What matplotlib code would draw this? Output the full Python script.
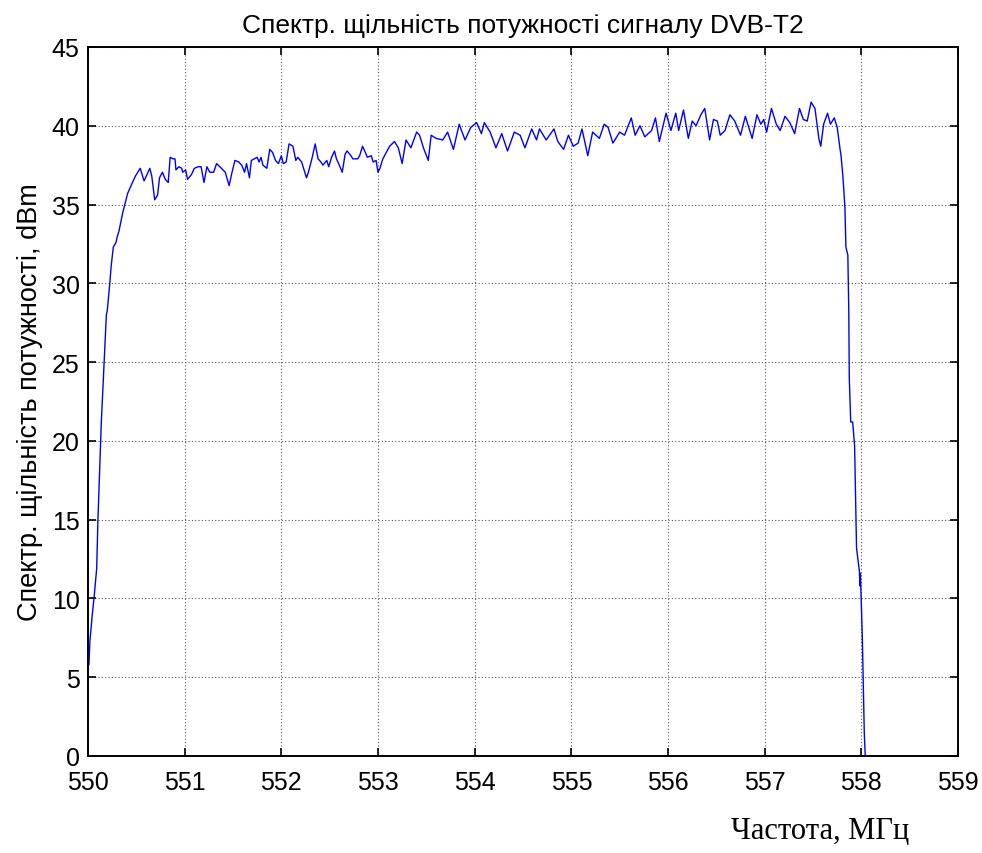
import matplotlib
matplotlib.use("Agg")
import matplotlib.pyplot as plt

# spectrum trace, frequency in MHz and PSD in dBm
freq_mhz = [
    550.01, 550.02, 550.035, 550.045, 550.062, 550.09, 550.103, 550.12, 550.138, 550.158,
    550.176, 550.19, 550.20, 550.227, 550.24, 550.262, 550.29, 550.30, 550.32, 550.36,
    550.41, 550.46, 550.49, 550.54,
    550.58, 550.64, 550.66, 550.69, 550.72, 550.74, 550.77, 550.80, 550.83, 550.85,
    550.88, 550.90, 550.91, 550.94, 550.97, 550.98, 551.01, 551.03, 551.07, 551.10,
    551.14, 551.17, 551.20, 551.23, 551.26, 551.30, 551.33, 551.38, 551.42, 551.46,
    551.49, 551.52, 551.56, 551.59, 551.62, 551.64, 551.67, 551.69, 551.72, 551.75,
    551.77, 551.79, 551.81, 551.85, 551.88, 551.91, 551.94, 551.97, 552.00, 552.02,
    552.05, 552.08, 552.12, 552.15, 552.17, 552.21, 552.23, 552.26, 552.28, 552.32,
    552.35, 552.38, 552.41, 552.43, 552.47, 552.49, 552.52, 552.55, 552.57, 552.60,
    552.63, 552.66, 552.68, 552.72, 552.74, 552.79, 552.81, 552.84, 552.87, 552.89,
    552.93, 552.95, 552.98, 553.00, 553.02,
    553.05, 553.12, 553.17,
    553.21, 553.25, 553.29, 553.34, 553.40, 553.43, 553.47, 553.52, 553.55, 553.60,
    553.67, 553.72, 553.78, 553.84, 553.90, 553.96, 554.02, 554.07, 554.10, 554.16,
    554.22, 554.28, 554.34, 554.41, 554.47, 554.52, 554.59, 554.64, 554.67, 554.74,
    554.82, 554.86, 554.92, 554.97, 555.02, 555.07, 555.11, 555.17, 555.22, 555.29,
    555.34, 555.38, 555.43, 555.50, 555.55, 555.62, 555.66, 555.71, 555.76, 555.83,
    555.87, 555.91, 555.98, 556.03, 556.08, 556.11, 556.16, 556.21, 556.25, 556.29,
    556.34, 556.38, 556.43, 556.47, 556.51, 556.54, 556.59, 556.64, 556.69, 556.75,
    556.80, 556.87, 556.92, 556.96, 556.99, 557.02, 557.07, 557.12, 557.16, 557.21,
    557.26, 557.31, 557.36, 557.40, 557.44, 557.48, 557.52, 557.56, 557.58, 557.61,
    557.65, 557.68, 557.72, 557.75, 557.78, 557.79, 557.81, 557.83, 557.84, 557.86,
    557.87, 557.875, 557.89, 557.91, 557.93, 557.95, 557.98, 557.985, 557.99, 558.01,
    558.03, 558.04,
]
psd_dbm = [
    5.8, 7.3, 8.3, 9.0, 10.0, 11.9, 15.0, 18.1, 21.2, 23.8,
    26.1, 28.0, 28.3, 30.1, 31.1, 32.3, 32.6, 32.9, 33.3, 34.5,
    35.7, 36.4, 36.8, 37.3,
    36.5, 37.3, 36.8, 35.3, 35.6, 36.7, 37.05, 36.6, 36.4, 38.0,
    37.9, 37.9, 37.2, 37.4, 37.3, 37.05, 37.2, 36.6, 36.9, 37.3,
    37.4, 37.4, 36.4, 37.4, 37.05, 37.05, 37.6, 37.3, 37.05, 36.2,
    37.05, 37.8, 37.7, 37.5, 37.05, 37.6, 36.7, 37.8, 37.9, 38.0,
    37.7, 38.0, 37.5, 37.3, 38.5, 38.3, 37.8, 37.6, 38.1, 37.6,
    37.7, 38.85, 38.7, 37.8, 38.0, 37.7, 37.3, 36.7, 37.05, 38.0,
    38.85, 37.9, 37.7, 37.5, 37.8, 37.4, 38.0, 38.4, 37.9, 37.5,
    37.05, 38.2, 38.4, 38.1, 37.9, 37.9, 38.1, 38.7, 38.3, 38.0,
    38.1, 37.7, 37.8, 37.05, 37.3,
    37.9, 38.7, 39.0,
    38.6, 37.6, 39.1, 38.6, 39.6, 39.4, 38.6, 37.8, 39.4, 39.2,
    39.1, 39.6, 38.5, 40.1, 39.1, 39.9, 40.2, 39.5, 40.2, 39.6,
    38.6, 39.5, 38.4, 39.6, 39.4, 38.6, 39.8, 39.1, 39.8, 39.1,
    39.8, 39.0, 38.5, 39.4, 38.7, 38.9, 39.8, 38.1, 39.6, 39.2,
    40.1, 39.9, 38.9, 39.6, 39.4, 40.5, 39.4, 40.0, 39.3, 39.7,
    40.5, 39.0, 40.8, 39.7, 40.8, 39.7, 41.0, 39.2, 40.3, 40.0,
    40.7, 41.1, 39.1, 40.4, 40.3, 39.4, 39.7, 40.7, 40.3, 39.4,
    40.6, 39.2, 40.7, 40.1, 40.4, 39.6, 41.1, 40.1, 39.7, 40.6,
    40.2, 39.5, 41.1, 40.4, 40.3, 41.5, 41.1, 39.2, 38.7, 40.1,
    40.8, 40.1, 40.5, 39.9, 38.5, 38.1, 36.7, 34.8, 32.3, 31.8,
    28.2, 24.0, 21.2, 21.2, 19.7, 13.2, 11.7, 10.8, 11.6, 7.5,
    1.5, 0.0,
]

x_ticks = [550, 551, 552, 553, 554, 555, 556, 557, 558, 559]
y_ticks = [0, 5, 10, 15, 20, 25, 30, 35, 40, 45]

plt.rcParams['font.family'] = ['Liberation Sans', 'DejaVu Sans']

fig = plt.figure(figsize=(9.82, 8.54), dpi=100)
ax = fig.add_axes([0.0896, 0.1136, 0.886, 0.8302])

ax.plot(freq_mhz, psd_dbm, color='#0000ff', linewidth=1.0)

ax.set_xlim(550, 559)
ax.set_ylim(0, 45)
ax.set_xticks(x_ticks)
ax.set_yticks(y_ticks)
ax.tick_params(direction='in', length=6, width=1.2, labelsize=18,
               top=True, right=True)
ax.tick_params(axis='x', pad=10)
ax.tick_params(axis='y', pad=6)
for s in ax.spines.values():
    s.set_linewidth(1.4)

ax.grid(True, color='#555555', linestyle=(0, (1, 2)), linewidth=0.8)

ax.set_title('Спектр. щільність потужності сигналу DVB-T2', fontsize=19, pad=11)
ax.set_ylabel('Спектр. щільність потужності, dBm', fontsize=19.5, labelpad=6)
fig.text(0.835, 0.017, 'Частота, МГц', fontsize=22, ha='center', va='baseline',
         family=['Liberation Serif', 'DejaVu Serif'])

fig.savefig('out.png', dpi=100)
